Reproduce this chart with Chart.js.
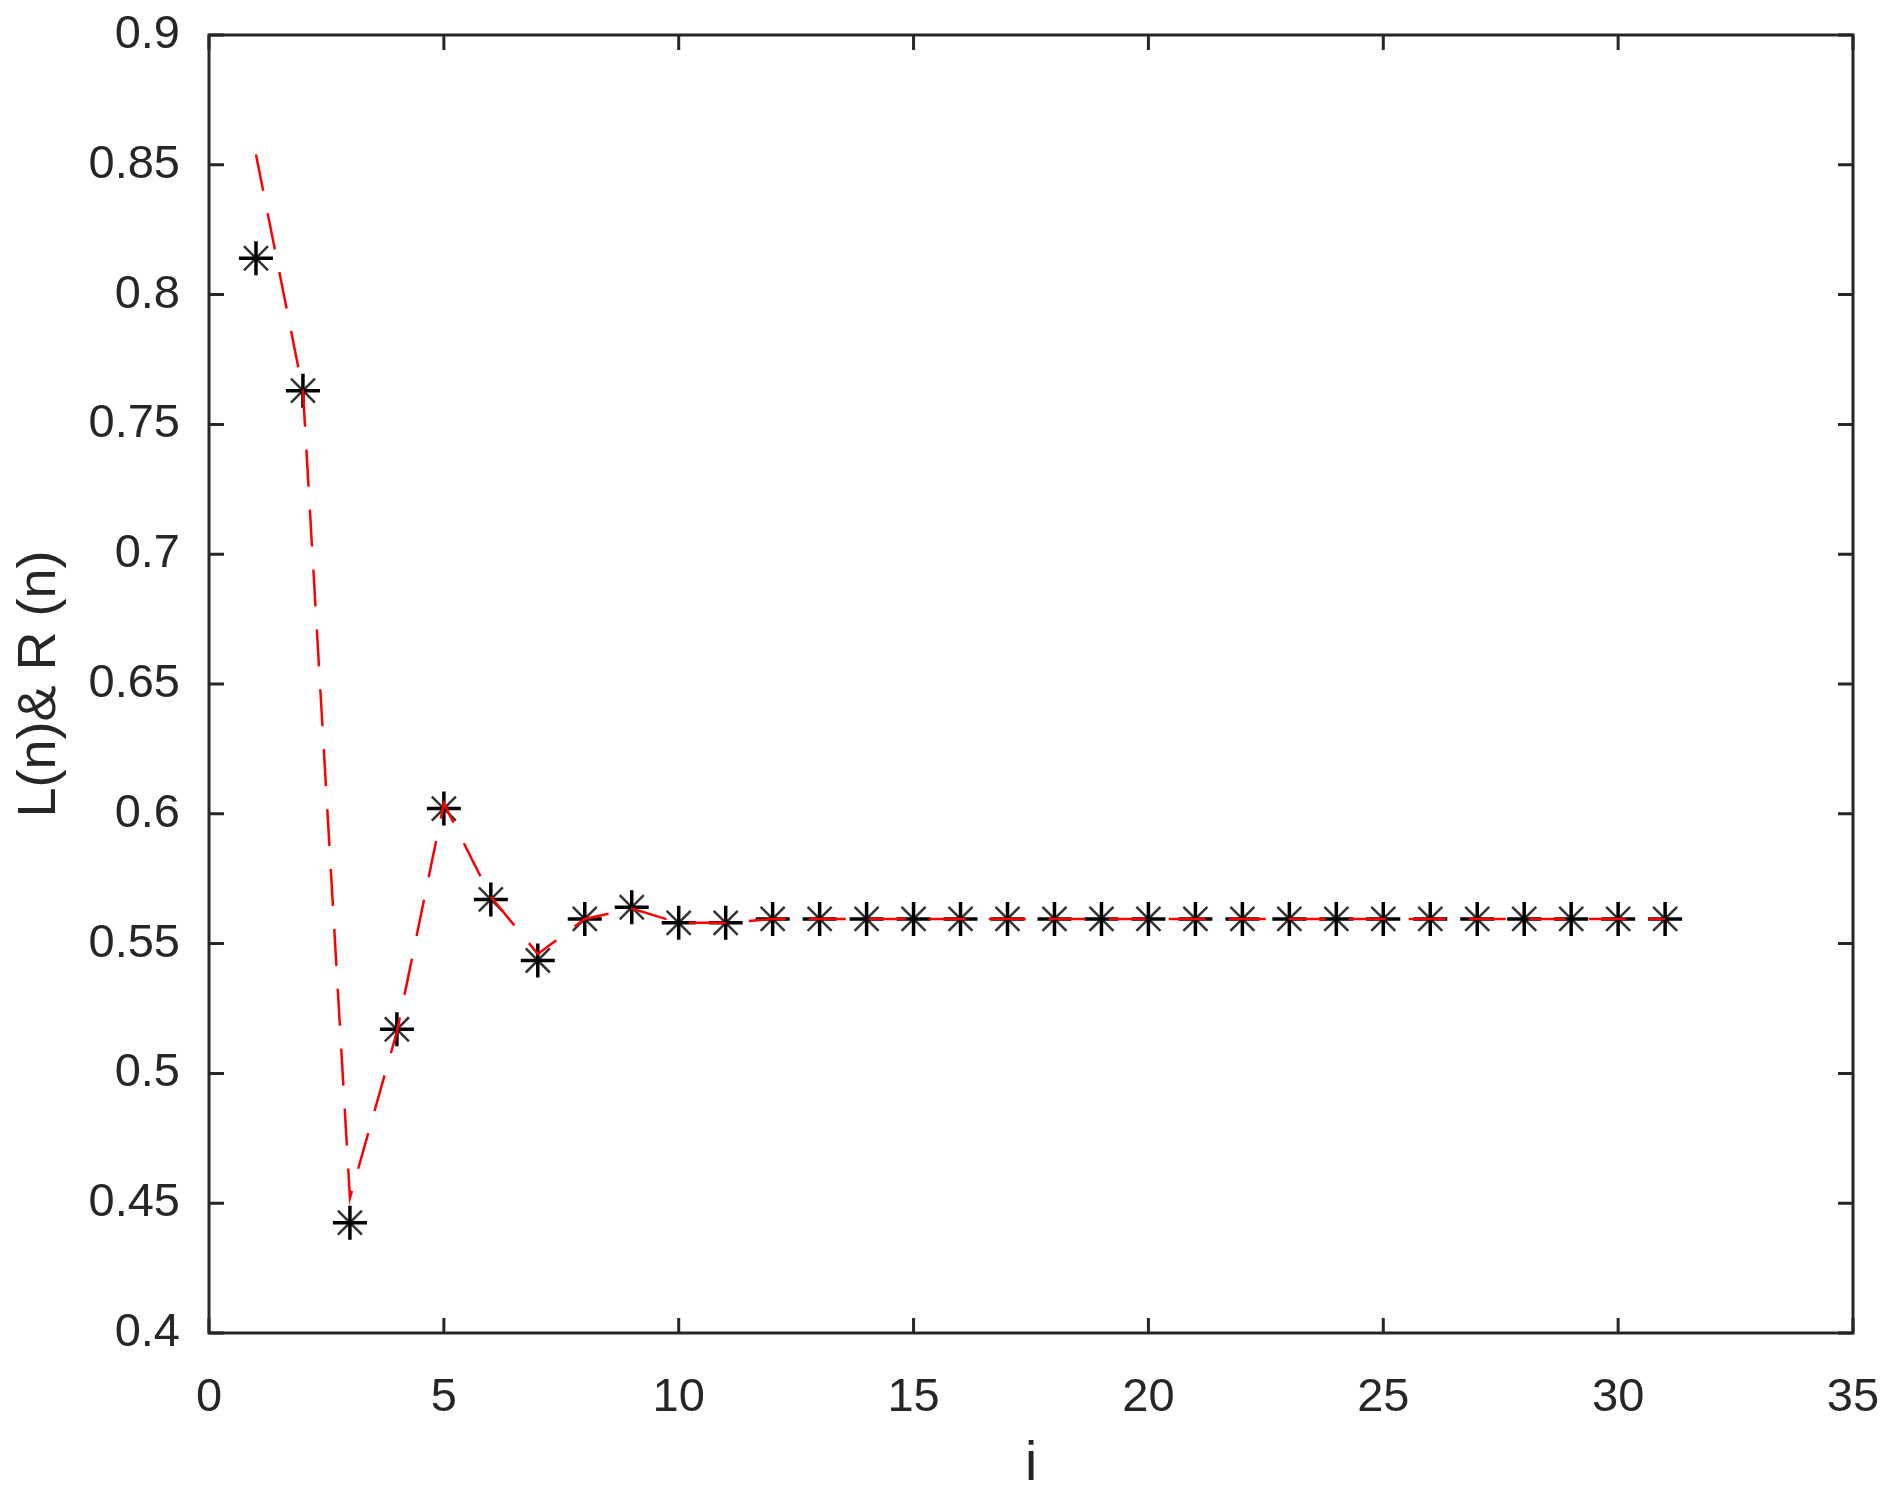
<!DOCTYPE html>
<html>
<head>
<meta charset="utf-8">
<title>L(n) & R(n)</title>
<script src="https://cdn.jsdelivr.net/npm/chart.js@4/dist/chart.umd.min.js"></script>
<style>
    html, body { margin: 0; padding: 0; background: #fff; }
    #plot { display: block; }
</style>
</head>
<body>
<canvas id="plot" width="1898" height="1497"></canvas>
<script>
    // iteration index
    var iValues = [1, 2, 3, 4, 5, 6, 7, 8, 9, 10, 11, 12, 13, 14, 15, 16,
        17, 18, 19, 20, 21, 22, 23, 24, 25, 26, 27, 28, 29, 30, 31];

    // red dashed curve
    var lValues = [0.854, 0.763, 0.452, 0.516, 0.604, 0.568, 0.546, 0.5595, 0.5635, 0.558, 0.558,
        0.5595, 0.5595, 0.5595, 0.5595, 0.5595, 0.5595, 0.5595, 0.5595, 0.5595, 0.5595,
        0.5595, 0.5595, 0.5595, 0.5595, 0.5595, 0.5595, 0.5595, 0.5595, 0.5595, 0.5595];

    // black star markers
    var rValues = [0.814, 0.763, 0.4425, 0.517, 0.602, 0.567, 0.5435, 0.5595, 0.564, 0.558, 0.558,
        0.5595, 0.5595, 0.5595, 0.5595, 0.5595, 0.5595, 0.5595, 0.5595, 0.5595, 0.5595,
        0.5595, 0.5595, 0.5595, 0.5595, 0.5595, 0.5595, 0.5595, 0.5595, 0.5595, 0.5595];

    var xRange = [0, 35, 5];
    var yRange = [0.4, 0.9, 0.05];
    var xTitle = 'i';
    var yTitle = 'L(n)& R (n)';

    var axisColor = '#262626';
    var fontFamily = '"Liberation Sans", Arial, Helvetica, sans-serif';

    function points(ys) {
        return iValues.map(function (x, k) { return { x: x, y: ys[k] }; });
    }

    // keep the plot box where the layout padding puts it
    function noLabelPadding(s) {
        s.paddingTop = 0;
        s.paddingBottom = 0;
        s.paddingLeft = 0;
        s.paddingRight = 0;
    }

    // MATLAB style box with inward ticks on all four sides
    var boxTicks = {
        id: 'boxTicks',
        afterDatasetsDraw: function (chart) {
            var ctx = chart.ctx;
            var a = chart.chartArea;
            var xs = chart.scales.x;
            var ys = chart.scales.y;
            var len = 15;
            ctx.save();
            ctx.strokeStyle = axisColor;
            ctx.lineWidth = 3;
            ctx.beginPath();
            xs.ticks.forEach(function (t) {
                var px = xs.getPixelForValue(t.value);
                ctx.moveTo(px, a.bottom); ctx.lineTo(px, a.bottom - len);
                ctx.moveTo(px, a.top); ctx.lineTo(px, a.top + len);
            });
            ys.ticks.forEach(function (t) {
                var py = ys.getPixelForValue(t.value);
                ctx.moveTo(a.left, py); ctx.lineTo(a.left + len, py);
                ctx.moveTo(a.right, py); ctx.lineTo(a.right - len, py);
            });
            ctx.stroke();
            ctx.strokeRect(a.left, a.top, a.right - a.left, a.bottom - a.top);
            ctx.restore();
        }
    };

    new Chart(document.getElementById('plot'), {
        type: 'scatter',
        data: {
            datasets: [{
                label: 'L(n)',
                data: points(lValues),
                showLine: true,
                borderColor: '#ff0000',
                borderWidth: 2.5,
                borderDash: [37, 23],
                pointRadius: 0,
                fill: false
            }, {
                label: 'R(n) plus',
                data: points(rValues),
                pointStyle: 'cross',
                pointRadius: 17,
                pointBorderWidth: 3.5,
                pointBorderColor: '#000',
                pointBackgroundColor: '#000'
            }, {
                label: 'R(n) diag',
                data: points(rValues),
                pointStyle: 'crossRot',
                pointRadius: 17,
                pointBorderWidth: 2.5,
                pointBorderColor: '#333',
                pointBackgroundColor: '#333'
            }]
        },
        options: {
            responsive: false,
            animation: false,
            layout: { padding: { top: 35, right: 45, left: 0, bottom: 0 } },
            plugins: {
                legend: { display: false },
                tooltip: { enabled: false }
            },
            scales: {
                x: {
                    type: 'linear',
                    min: xRange[0],
                    max: xRange[1],
                    afterFit: function (s) { s.height = 164; noLabelPadding(s); },
                    grid: { display: false },
                    border: { display: false },
                    ticks: {
                        stepSize: xRange[2],
                        padding: 29,
                        color: axisColor,
                        font: { family: fontFamily, size: 47 },
                        maxRotation: 0
                    },
                    title: {
                        display: true,
                        text: xTitle,
                        color: axisColor,
                        font: { family: fontFamily, size: 55, lineHeight: 1 },
                        padding: { top: 0, bottom: 5 }
                    }
                },
                y: {
                    type: 'linear',
                    min: yRange[0],
                    max: yRange[1],
                    afterFit: function (s) { s.width = 209; noLabelPadding(s); },
                    grid: { display: false },
                    border: { display: false },
                    ticks: {
                        stepSize: yRange[2],
                        padding: 21,
                        color: axisColor,
                        font: { family: fontFamily, size: 47 },
                        callback: function (v) { return String(+v.toFixed(2)); }
                    },
                    title: {
                        display: true,
                        text: yTitle,
                        color: axisColor,
                        font: { family: fontFamily, size: 54, lineHeight: 1 },
                        padding: { top: 13, bottom: 0 }
                    }
                }
            }
        },
        plugins: [boxTicks]
    });
</script>
</body>
</html>
